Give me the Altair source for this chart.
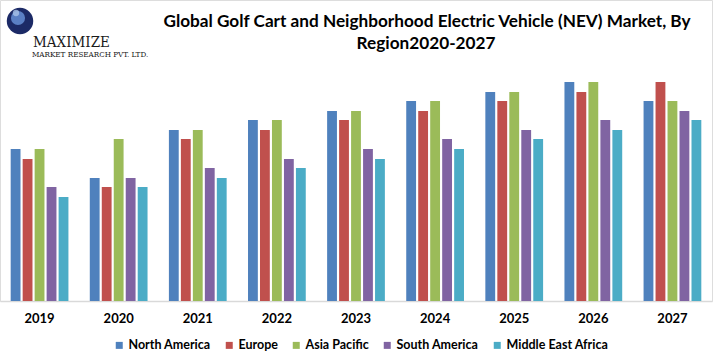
import altair as alt
import pandas as pd

years = ["2019", "2020", "2021", "2022", "2023", "2024", "2025", "2026", "2027"]
regions = ["North America", "Europe", "Asia Pacific", "South America", "Middle East Africa"]
colors = ["#4f81bd", "#c0504d", "#9bbb59", "#8064a2", "#4bacc6"]

north_america = [15.2, 12.3, 17.1, 18.1, 19.0, 20.0, 20.9, 21.9, 20.0]
europe = [14.2, 11.4, 16.2, 17.1, 18.1, 19.0, 20.0, 20.9, 21.9]
asia_pacific = [15.2, 16.2, 17.1, 18.1, 19.0, 20.0, 20.9, 21.9, 20.0]
south_america = [11.4, 12.3, 13.3, 14.2, 15.2, 16.2, 17.1, 18.1, 19.0]
middle_east_africa = [10.4, 11.4, 12.3, 13.3, 14.2, 15.2, 16.2, 17.1, 18.1]

title_lines = ["Global Golf Cart and Neighborhood Electric Vehicle (NEV) Market, By", "Region2020-2027"]
logo_main = "MAXIMIZE"
logo_sub = "MARKET RESEARCH PVT. LTD."

series = [north_america, europe, asia_pacific, south_america, middle_east_africa]
rows = []
for r, vals in zip(regions, series):
    for y, v in zip(years, vals):
        rows.append({"Year": y, "Region": r, "Value": v})
df = pd.DataFrame(rows)

FONT = "Lato"
W, H = 712, 301

bars = alt.Chart(df).mark_bar().encode(
    x=alt.X("Year:N", sort=years,
            scale=alt.Scale(paddingInner=0.27, paddingOuter=0.135),
            axis=alt.Axis(title=None, labelAngle=0, ticks=False, domainColor="#d9d9d9",
                          domainWidth=1.5, labelFont=FONT, labelFontWeight="bold",
                          labelFontSize=13, labelColor="#000000", labelPadding=11)),
    xOffset=alt.XOffset("Region:N", sort=regions,
                        scale=alt.Scale(paddingInner=0.18, paddingOuter=0)),
    y=alt.Y("Value:Q", scale=alt.Scale(domain=[0, 30.1]), axis=None),
    color=alt.Color("Region:N", sort=regions,
                    scale=alt.Scale(domain=regions, range=colors),
                    legend=alt.Legend(title=None, orient="none", direction="horizontal",
                                      legendX=113, legendY=339, symbolType="square",
                                      symbolSize=49, symbolStrokeWidth=0,
                                      labelFont=FONT, labelFontWeight="bold",
                                      labelFontSize=12.5, labelColor="#000000",
                                      labelOffset=3, columnPadding=12, padding=0)),
)

one = pd.DataFrame({"a": [0]})

t1 = alt.Chart(one).mark_text(font=FONT, fontWeight="bold", fontSize=17.2, color="#000000",
                              align="center", baseline="middle").encode(
    x=alt.value(427), y=alt.value(22), text=alt.value(title_lines[0]))
t2 = alt.Chart(one).mark_text(font=FONT, fontWeight="bold", fontSize=17.2, color="#000000",
                              align="center", baseline="middle").encode(
    x=alt.value(426), y=alt.value(44), text=alt.value(title_lines[1]))

globe = alt.Chart(one).mark_point(shape="circle", filled=True, color="#1c2a66", opacity=1).encode(
    x=alt.value(20), y=alt.value(21), size=alt.value(700))
globe2 = alt.Chart(one).mark_point(shape="circle", filled=True, color="#5a7fc4", opacity=1).encode(
    x=alt.value(18), y=alt.value(18), size=alt.value(200))
globe3 = alt.Chart(one).mark_point(shape="circle", filled=True, color="#a9c3ea", opacity=0.8).encode(
    x=alt.value(16), y=alt.value(13), size=alt.value(40))

l1 = alt.Chart(one).mark_text(font="DejaVu Serif Condensed", fontSize=15, color="#1a1a1a",
                              align="left", baseline="alphabetic").encode(
    x=alt.value(33), y=alt.value(47), text=alt.value(logo_main))
l2 = alt.Chart(one).mark_text(font="DejaVu Serif Condensed", fontSize=8, color="#1a1a1a",
                              align="left", baseline="alphabetic").encode(
    x=alt.value(32), y=alt.value(57), text=alt.value(logo_sub))

chart = alt.layer(bars, t1, t2, globe, globe2, globe3, l1, l2).properties(
    width=W, height=H,
    padding={"left": 0, "top": 0, "right": 6, "bottom": 55},
    autosize=alt.AutoSizeParams(type="none"),
).configure_view(stroke=None).configure(background="white")

chart.save("out.html", embed_options={"renderer": "svg", "actions": False})
